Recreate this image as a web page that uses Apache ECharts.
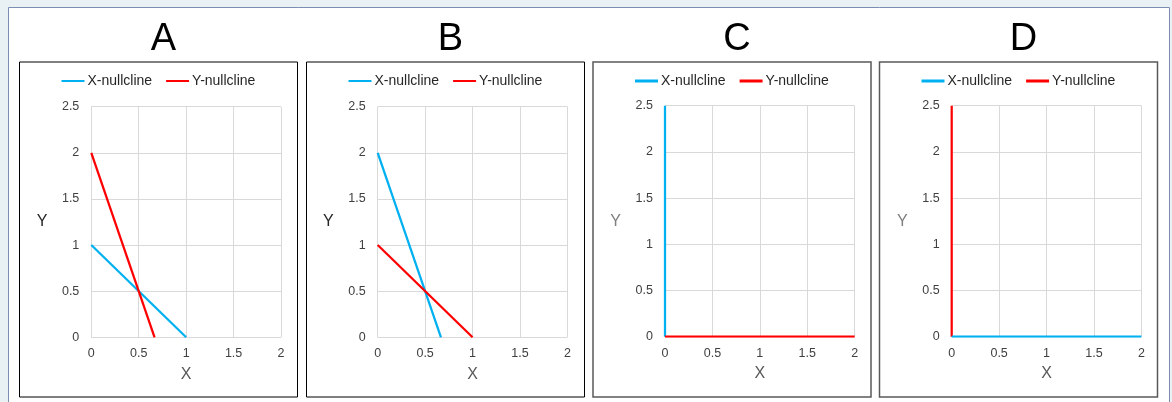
<!DOCTYPE html>
<html>
<head>
<meta charset="utf-8">
<script src="https://cdn.jsdelivr.net/npm/echarts@6/dist/echarts.min.js"></script>
<style>html,body{margin:0;padding:0;background:#e9f1f5;}#c{width:1172px;height:402px;}</style>
</head>
<body>
<div id="c"></div>
<script>
// ---- data ----
const panelTitles = ['A', 'B', 'C', 'D'];
const seriesNames = ['X-nullcline', 'Y-nullcline'];
const xTicks = [0, 0.5, 1, 1.5, 2];
const yTicks = [0, 0.5, 1, 1.5, 2, 2.5];
const xNullA = [[0, 1], [1, 0]];
const yNullA = [[0, 2], [0.667, 0]];
const xNullB = [[0, 2], [0.667, 0]];
const yNullB = [[0, 1], [1, 0]];
const xNullC = [[0, 0], [0, 2.5]];
const yNullC = [[0, 0], [2, 0]];
const xNullD = [[0, 0], [2, 0]];
const yNullD = [[0, 0], [0, 2.5]];

const BLUE = '#00b0f0', RED = '#ff0000';
const FONT = '"Liberation Sans", Arial, sans-serif';

const panels = [
  {left: 19.5, gridLeft: 91.3, gridTop: 106.7, gridH: 230.6, border: '#000', bw: 1, yNameColor: '#262626', legendH: 2, xN: xNullA, yN: yNullA, order: 'xy'},
  {left: 306.5, gridLeft: 377.7, gridTop: 106.7, gridH: 230.6, border: '#000', bw: 1, yNameColor: '#262626', legendH: 2, xN: xNullB, yN: yNullB, order: 'xy'},
  {left: 593, gridLeft: 665, gridTop: 105.7, gridH: 231, border: '#595959', bw: 1.5, yNameColor: '#7f7f7f', legendH: 3, xN: xNullC, yN: yNullC, order: 'xy'},
  {left: 879.5, gridLeft: 951.7, gridTop: 105.7, gridH: 231, border: '#595959', bw: 1.5, yNameColor: '#7f7f7f', legendH: 3, xN: xNullD, yN: yNullD, order: 'yx'}
];
const PANEL_W = 278, PANEL_H = 335, PANEL_TOP = 62, GRID_W = 189.7;

const option = {
  backgroundColor: '#e9f1f5',
  animation: false,
  title: [], legend: [], grid: [], xAxis: [], yAxis: [], series: [],
  graphic: [{
    type: 'rect', z: -100, silent: true,
    shape: {x: 8.5, y: 7.5, width: 1161, height: 410},
    style: {fill: '#ffffff', stroke: '#7b8db1', lineWidth: 1}
  }]
};

panels.forEach((p, i) => {
  option.graphic.push({
    type: 'rect', z: -50, silent: true,
    shape: {x: p.left, y: PANEL_TOP, width: PANEL_W, height: PANEL_H},
    style: {fill: 'none', stroke: p.border, lineWidth: p.bw}
  });
  option.title.push({
    text: panelTitles[i], left: p.left + PANEL_W / 2, top: 16, textAlign: 'center',
    textStyle: {fontFamily: FONT, fontSize: 38, fontWeight: 'normal', color: '#000'}
  });
  option.legend.push({
    left: p.left + 42, top: 74, padding: 0, itemWidth: 23, itemHeight: p.legendH, itemGap: 14, icon: 'rect',
    data: seriesNames,
    textStyle: {fontFamily: FONT, fontSize: 14, color: '#262626', padding: [0, 0, 0, -2]}
  });
  option.grid.push({left: p.gridLeft, top: p.gridTop, width: GRID_W, height: p.gridH});
  option.xAxis.push({
    gridIndex: i, type: 'value', min: xTicks[0], max: xTicks[xTicks.length - 1], interval: 0.5,
    name: 'X', nameLocation: 'middle', nameGap: 29,
    nameTextStyle: {fontFamily: FONT, fontSize: 16, color: '#595959'},
    axisLine: {show: false}, axisTick: {show: false},
    axisLabel: {fontFamily: FONT, fontSize: 12.5, color: '#404040', margin: 10},
    splitLine: {show: true, lineStyle: {color: '#d9d9d9', width: 1}}
  });
  option.yAxis.push({
    gridIndex: i, type: 'value', min: yTicks[0], max: yTicks[yTicks.length - 1], interval: 0.5,
    name: 'Y', nameLocation: 'middle', nameGap: 44, nameRotate: 0,
    nameTextStyle: {fontFamily: FONT, fontSize: 16, color: p.yNameColor},
    axisLine: {show: false}, axisTick: {show: false},
    axisLabel: {fontFamily: FONT, fontSize: 12.5, color: '#404040', margin: 12},
    splitLine: {show: true, lineStyle: {color: '#d9d9d9', width: 1}}
  });
  const sx = {type: 'line', name: seriesNames[0], xAxisIndex: i, yAxisIndex: i, data: p.xN,
    showSymbol: false, symbol: 'none', color: BLUE, lineStyle: {color: BLUE, width: 2.25}};
  const sy = {type: 'line', name: seriesNames[1], xAxisIndex: i, yAxisIndex: i, data: p.yN,
    showSymbol: false, symbol: 'none', color: RED, lineStyle: {color: RED, width: 2.25}};
  if (p.order === 'xy') { option.series.push(sx, sy); } else { option.series.push(sy, sx); }
});

const chart = echarts.init(document.getElementById('c'), null, {renderer: 'canvas'});
chart.setOption(option);
</script>
</body>
</html>
